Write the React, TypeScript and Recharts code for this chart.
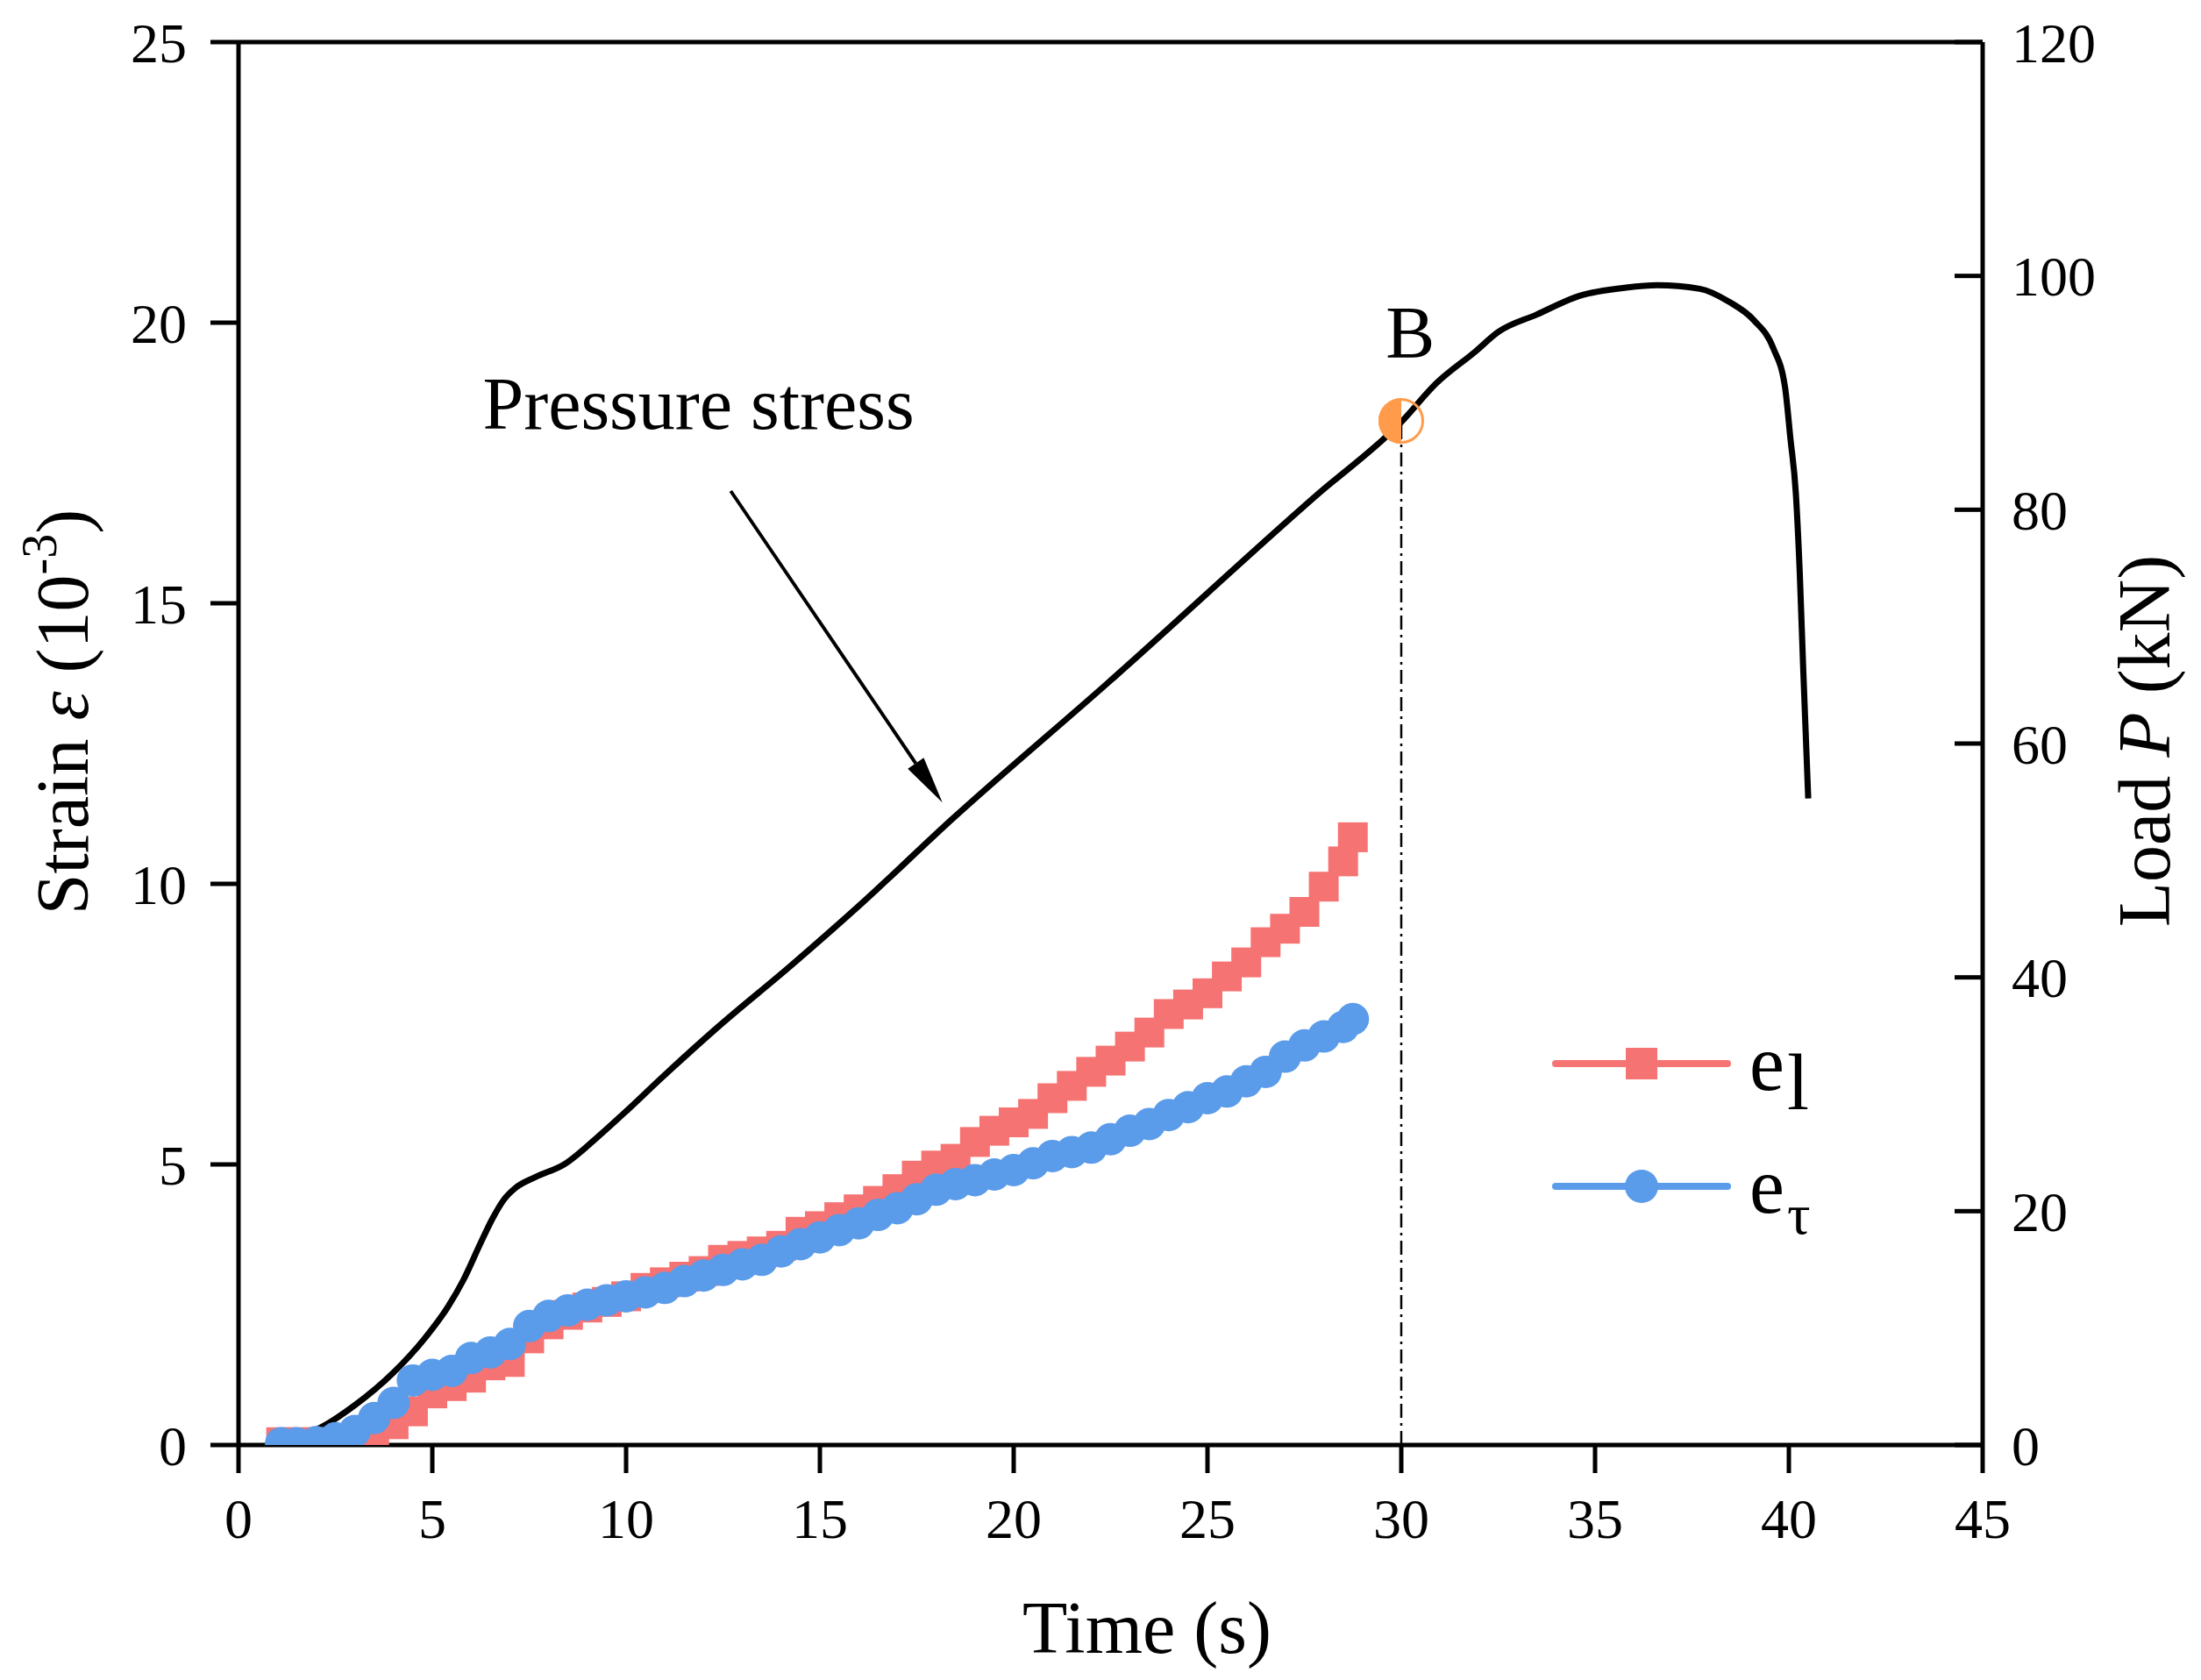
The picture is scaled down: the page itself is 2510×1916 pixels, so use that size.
import {
  LineChart,
  Line,
  XAxis,
  YAxis,
  ReferenceLine,
  ReferenceDot,
  Legend,
  Customized,
} from 'recharts'

const FONT = '"Liberation Serif", "Times New Roman", serif'
const RED = '#F67373'
const BLUE = '#5A9BEA'
const ORANGE = '#FF9B4B'

// strain readings, both gauges sampled at the same times (s)
const STRAIN_TIME = [
  1.1, 1.5, 2, 2.5, 3, 3.5, 4, 4.5, 5, 5.5,
  6, 6.5, 7, 7.5, 8, 8.5, 9, 9.5, 10, 10.5,
  11, 11.5, 12, 12.5, 13, 13.5, 14, 14.5, 15, 15.5,
  16, 16.5, 17, 17.5, 18, 18.5, 19, 19.5, 20, 20.5,
  21, 21.5, 22, 22.5, 23, 23.5, 24, 24.5, 25, 25.5,
  26, 26.5, 27, 27.5, 28, 28.5, 28.75,
]
// e_l  (10^-3)
const E_L = [
  0.05, 0.05, 0.05, 0.05, 0.05, 0.15, 0.37, 0.6, 0.92, 1.05,
  1.2, 1.42, 1.48, 1.9, 2.15, 2.32, 2.45, 2.55, 2.65, 2.8,
  2.9, 3.0, 3.1, 3.3, 3.37, 3.45, 3.55, 3.8, 3.9, 4.06,
  4.2, 4.35, 4.56, 4.8, 4.98, 5.1, 5.4, 5.6, 5.75, 5.9,
  6.18, 6.4, 6.65, 6.85, 7.1, 7.35, 7.68, 7.85, 8.05, 8.35,
  8.6, 8.96, 9.2, 9.5, 9.95, 10.4, 10.83,
]
// e_tau (10^-3)
const E_TAU = [
  0.03, 0.03, 0.05, 0.12, 0.25, 0.48, 0.75, 1.15, 1.25, 1.32,
  1.55, 1.65, 1.8, 2.12, 2.3, 2.4, 2.5, 2.58, 2.65, 2.72,
  2.8, 2.92, 3.02, 3.12, 3.22, 3.3, 3.45, 3.58, 3.7, 3.83,
  3.95, 4.1, 4.22, 4.38, 4.55, 4.65, 4.72, 4.82, 4.9, 5.02,
  5.15, 5.22, 5.3, 5.45, 5.6, 5.72, 5.88, 6.02, 6.18, 6.3,
  6.48, 6.65, 6.92, 7.12, 7.28, 7.45, 7.59,
]

// load curve (right axis)
const LOAD_TIME = [
  1.4, 2, 3, 4, 4.8, 5.4, 5.8, 6.25, 6.55, 6.85,
  7.15, 7.65, 8.4, 9.25, 10.05, 10.85, 12.35, 14.25, 16.1, 18.4,
  22.4, 27.8, 30, 30.9, 31.9, 32.5, 33.5, 34.6, 35.8, 36.6,
  37.7, 38.45, 39.1, 39.6, 39.9, 40.04, 40.18, 40.28, 40.37, 40.5,
]
const LOAD_KN = [
  0.7, 1.3, 3.4, 6.2, 9.1, 11.8, 14.1, 17.3, 19.35, 21.0,
  22.0, 22.9, 24.0, 26.3, 28.7, 31.2, 35.7, 41.0, 46.4, 53.5,
  65.1, 81.2, 87.5, 90.8, 93.5, 95.2, 96.7, 98.3, 99.0, 99.2,
  98.9, 97.8, 96.2, 93.8, 90.5, 86.1, 81.4, 74.7, 66.4, 55.3,
]

const X_TICKS = [0, 5, 10, 15, 20, 25, 30, 35, 40, 45]
const STRAIN_TICKS = [0, 5, 10, 15, 20, 25]
const LOAD_TICKS = [0, 20, 40, 60, 80, 100, 120]

// point B
const B_TIME = 30
const B_LOAD = 87.6

// arrow to the load curve, in (s, strain) units
const ARROW_FROM = { x: 12.7, y: 17.0 }
const ARROW_TO = { x: 18.16, y: 11.45 }

const LEGEND_SUB: Record<string, { sub: string; size: number; dy: number }> = {
  el: { sub: 'l', size: 90, dy: 22 },
  et: { sub: 'τ', size: 66, dy: 24 },
}

const elData = STRAIN_TIME.map((t, i) => ({ t, el: E_L[i] }))
const etData = STRAIN_TIME.map((t, i) => ({ t, et: E_TAU[i] }))
const loadData = LOAD_TIME.map((t, i) => ({ t, load: LOAD_KN[i] }))

const SquareDot = (props: any) => {
  const { cx, cy, index } = props
  if (cx == null || cy == null) return <g key={index} />
  return <rect key={index} x={cx - 17} y={cy - 17} width={34} height={34} fill={RED} />
}

const CircleDot = (props: any) => {
  const { cx, cy, index } = props
  if (cx == null || cy == null) return <g key={index} />
  return <circle key={index} cx={cx} cy={cy} r={18.5} fill={BLUE} />
}

const RightTick = (props: any) => {
  const { x, y, payload } = props
  return (
    <g>
      <line x1={x - 33} x2={x - 65} y1={y} y2={y} stroke="#000" strokeWidth={5} />
      <text x={x} y={y} dy="0.355em" textAnchor="start" fontSize={64} fontFamily={FONT} fill="#000">
        {payload.value}
      </text>
    </g>
  )
}

const ArrowShape = (props: any) => {
  const { x1, y1, x2, y2 } = props
  const ang = Math.atan2(y2 - y1, x2 - x1)
  const len = 54
  const half = 11
  const bx = x2 - len * Math.cos(ang)
  const by = y2 - len * Math.sin(ang)
  const px = -Math.sin(ang) * half
  const py = Math.cos(ang) * half
  return (
    <g>
      <line x1={x1} y1={y1} x2={bx} y2={by} stroke="#000" strokeWidth={4} />
      <polygon points={`${x2},${y2} ${bx + px},${by + py} ${bx - px},${by - py}`} fill="#000" />
    </g>
  )
}

const BMarker = (props: any) => {
  const { cx, cy } = props
  const r = 26
  return (
    <g>
      <path d={`M${cx},${cy - r} A${r},${r} 0 0 0 ${cx},${cy + r} Z`} fill={ORANGE} />
      <circle cx={cx} cy={cy} r={r - 1.5} fill="none" stroke={ORANGE} strokeWidth={3} />
    </g>
  )
}

const textAt = (label: string, anchor: string) => (props: any) => (
  <text
    x={props.cx}
    y={props.cy}
    textAnchor={anchor}
    fontSize={84}
    fontFamily={FONT}
    fill="#000"
  >
    {label}
  </text>
)

const AxisTitles = () => (
  <g fontFamily={FONT} fill="#000">
    <text x={1308} y={1885} fontSize={84} textAnchor="middle">
      Time (s)
    </text>
    <text transform="translate(100 812) rotate(-90)" fontSize={84} textAnchor="middle">
      Strain <tspan fontStyle="italic">ε</tspan> (10
      <tspan dy={-36} fontSize={56}>-3</tspan>
      <tspan dy={36}>)</tspan>
    </text>
    <text transform="translate(2474 845) rotate(-90)" fontSize={84} textAnchor="middle">
      Load <tspan fontStyle="italic">P</tspan> (kN)
    </text>
  </g>
)

const LegendBox = (props: any) => {
  const items = (props.payload || []).filter((entry: any) => LEGEND_SUB[entry.dataKey])
  return (
    <svg width={420} height={270} style={{ overflow: 'visible' }}>
      {items.map((entry: any, i: number) => {
        const y = 43 + i * 140
        const s = LEGEND_SUB[entry.dataKey]
        return (
          <g key={entry.dataKey}>
            <line x1={14} x2={210} y1={y} y2={y} stroke={entry.color} strokeWidth={8} strokeLinecap="round" />
            {entry.dataKey === 'el' ? (
              <rect x={112 - 18} y={y - 18} width={36} height={36} fill={entry.color} />
            ) : (
              <circle cx={112} cy={y} r={19} fill={entry.color} />
            )}
            <text x={235} y={y + 30} fontSize={90} fontFamily={FONT} fill="#000">
              e
            </text>
            <text x={278} y={y + 30 + s.dy} fontSize={s.size} fontFamily={FONT} fill="#000">
              {s.sub}
            </text>
          </g>
        )
      })}
    </svg>
  )
}

export default function App() {
  return (
    <div style={{ position: 'absolute', left: 0, top: 0, width: 2510, height: 1916, background: '#fff' }}>
      <LineChart
        width={2510}
        height={1916}
        margin={{ top: 48, right: 49, bottom: 118, left: 72 }}
        style={{ fontFamily: FONT }}
      >
        <XAxis
          dataKey="t"
          type="number"
          domain={[0, 45]}
          ticks={X_TICKS}
          allowDataOverflow
          height={150}
          axisLine={{ stroke: '#000', strokeWidth: 5 }}
          tickLine={{ stroke: '#000', strokeWidth: 5 }}
          tickSize={32}
          tickMargin={29}
          tick={{ fontSize: 64, fontFamily: FONT, fill: '#000' }}
        />
        <YAxis
          yAxisId="left"
          type="number"
          domain={[0, 25]}
          ticks={STRAIN_TICKS}
          allowDataOverflow
          width={200}
          axisLine={{ stroke: '#000', strokeWidth: 5 }}
          tickLine={{ stroke: '#000', strokeWidth: 5 }}
          tickSize={32}
          tickMargin={27}
          tick={{ fontSize: 64, fontFamily: FONT, fill: '#000' }}
        />
        <YAxis
          yAxisId="right"
          orientation="right"
          type="number"
          domain={[0, 120]}
          ticks={LOAD_TICKS}
          allowDataOverflow
          width={200}
          axisLine={{ stroke: '#000', strokeWidth: 5 }}
          tickLine={false}
          tickSize={0}
          tickMargin={33}
          tick={RightTick}
        />
        <ReferenceLine yAxisId="left" y={25} stroke="#000" strokeWidth={5} />
        <Line
          yAxisId="left"
          data={elData}
          dataKey="el"
          name="e_l"
          type="linear"
          stroke={RED}
          strokeWidth={6}
          dot={SquareDot}
          activeDot={false}
          isAnimationActive={false}
        />
        <Line
          yAxisId="left"
          data={etData}
          dataKey="et"
          name="e_τ"
          type="linear"
          stroke={BLUE}
          strokeWidth={6}
          dot={CircleDot}
          activeDot={false}
          isAnimationActive={false}
        />
        <Line
          yAxisId="right"
          data={loadData}
          dataKey="load"
          type="monotone"
          stroke="#000"
          strokeWidth={7}
          dot={false}
          activeDot={false}
          legendType="none"
          isAnimationActive={false}
        />
        <ReferenceLine
          yAxisId="right"
          segment={[
            { x: B_TIME, y: 0 },
            { x: B_TIME, y: B_LOAD },
          ]}
          stroke="#000"
          strokeWidth={2.5}
          strokeDasharray="16 6 3 6"
        />
        <ReferenceLine yAxisId="left" segment={[ARROW_FROM, ARROW_TO]} shape={ArrowShape} />
        <ReferenceDot yAxisId="right" x={B_TIME} y={B_LOAD} r={26} shape={BMarker} />
        <ReferenceDot yAxisId="left" x={6.3} y={18.11} r={1} shape={textAt('Pressure stress', 'start')} />
        <ReferenceDot yAxisId="left" x={30.23} y={19.375} r={1} shape={textAt('B', 'middle')} />
        <Legend
          layout="vertical"
          align="center"
          verticalAlign="middle"
          content={LegendBox}
          wrapperStyle={{ left: 1760, top: 1170, width: 420, height: 270 }}
        />
        <Customized component={AxisTitles} />
      </LineChart>
    </div>
  )
}
